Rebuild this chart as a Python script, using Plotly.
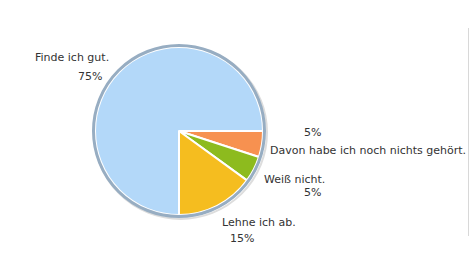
import plotly.graph_objects as go

labels = ["Davon habe ich noch nichts gehört.", "Weiß nicht.", "Lehne ich ab.", "Finde ich gut."]
values = [5, 5, 15, 75]
colors = ["#f79150", "#8dbb1e", "#f5bd1f", "#b3d8f9"]

W, H = 470, 265
cx, cy, r = 179, 131, 84

def px(x):
    return x / W

def py(y):
    return 1 - y / H

fig = go.Figure()
fig.add_trace(go.Pie(
    labels=labels, values=values, sort=False, direction="clockwise", rotation=90,
    marker=dict(colors=colors, line=dict(color="white", width=2)),
    textinfo="none", hoverinfo="label+percent", showlegend=False,
    domain=dict(x=[px(cx - r), px(cx + r)], y=[py(cy + r), py(cy - r)]),
))

# outer rim / shadow
fig.add_shape(type="circle", xref="paper", yref="paper",
              x0=px(cx - r - 1.5), x1=px(cx + r + 1.5), y0=py(cy + r + 1.5), y1=py(cy - r - 1.5),
              line=dict(color="#97adc2", width=3), fillcolor="rgba(0,0,0,0)", layer="above")
fig.add_shape(type="circle", xref="paper", yref="paper",
              x0=px(cx - r - 1), x1=px(cx + r + 4), y0=py(cy + r + 4), y1=py(cy - r - 1),
              line=dict(color="#dddddd", width=2), fillcolor="rgba(0,0,0,0)", layer="below")
# right border line
fig.add_shape(type="line", xref="paper", yref="paper",
              x0=px(468.5), x1=px(468.5), y0=py(28), y1=py(236),
              line=dict(color="#d8d8d8", width=1))

pct = [f"{v}%" for v in values]
ann = [
    (labels[3], 72, 58), (pct[3], 90, 77),
    (pct[0], 312, 132), (labels[0], 368, 150),
    (labels[1], 294, 179), (pct[1], 312, 192),
    (labels[2], 259, 222), (pct[2], 242, 238),
]
for t, x, y in ann:
    fig.add_annotation(text=t, x=px(x), y=py(y), xref="paper", yref="paper",
                       showarrow=False, xanchor="center", yanchor="middle",
                       font=dict(family="DejaVu Sans", size=11, color="#333333"))

fig.update_layout(width=W, height=H, margin=dict(l=0, r=0, t=0, b=0),
                  paper_bgcolor="white", plot_bgcolor="white")
fig.write_html("out.html")
